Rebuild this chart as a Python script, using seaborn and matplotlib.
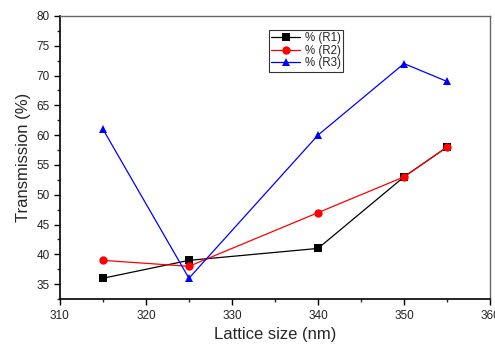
import numpy as np
import pandas as pd
import matplotlib
matplotlib.use("Agg")
import matplotlib.pyplot as plt
import seaborn as sns
from matplotlib.ticker import MultipleLocator

lattice = [315, 325, 340, 350, 355]
r1 = [36, 39, 41, 53, 58]
r2 = [39, 38, 47, 53, 58]
r3 = [61, 36, 60, 72, 69]
series_names = ["% (R1)", "% (R2)", "% (R3)"]

df = pd.DataFrame({
    "x": lattice * 3,
    "y": r1 + r2 + r3,
    "s": [series_names[0]] * 5 + [series_names[1]] * 5 + [series_names[2]] * 5,
})

sns.set_style("white")
plt.rcParams['font.family'] = ['Liberation Sans', 'DejaVu Sans']

fig = plt.figure(figsize=(4.95, 3.45), dpi=100)
ax = fig.add_axes([0.121, 0.133, 0.869, 0.821])

palette = {series_names[0]: "black", series_names[1]: "red", series_names[2]: "blue"}
markers = {series_names[0]: "s", series_names[1]: "o", series_names[2]: "^"}
sns.lineplot(data=df, x="x", y="y", hue="s", style="s", palette=palette,
             markers=markers, dashes=False, markersize=6, linewidth=0.9,
             markeredgewidth=0, ax=ax)

ax.set_xlim(310, 360)
ax.set_ylim(32.5, 80)
ax.xaxis.set_major_locator(MultipleLocator(10))
ax.xaxis.set_minor_locator(MultipleLocator(5))
ax.yaxis.set_major_locator(MultipleLocator(5))
ax.yaxis.set_minor_locator(MultipleLocator(2.5))
ax.tick_params(which="major", direction="out", length=4, width=1, labelsize=8.5,
               bottom=True, left=True, top=False, right=False, colors="black",
               labelcolor="#222222")
ax.tick_params(which="minor", direction="out", length=2.5, width=1,
               bottom=True, left=True, top=False, right=False)
for side in ["left", "bottom"]:
    ax.spines[side].set_color("black")
    ax.spines[side].set_linewidth(1.2)
for side in ["top", "right"]:
    ax.spines[side].set_color("#666666")
    ax.spines[side].set_linewidth(1.0)

ax.set_xlabel("Lattice size (nm)", fontsize=12, labelpad=4)
ax.set_ylabel("Transmission (%)", fontsize=12, labelpad=4)

leg = ax.legend(loc="upper left", bbox_to_anchor=(0.486, 0.95), fontsize=8.3,
                frameon=True, fancybox=False, handlelength=2.5, handletextpad=0.4,
                borderpad=0.2, labelspacing=0.05, borderaxespad=0, title=None)
leg.get_frame().set_edgecolor("black")
leg.get_frame().set_linewidth(0.8)

fig.savefig("out.png", dpi=100)
